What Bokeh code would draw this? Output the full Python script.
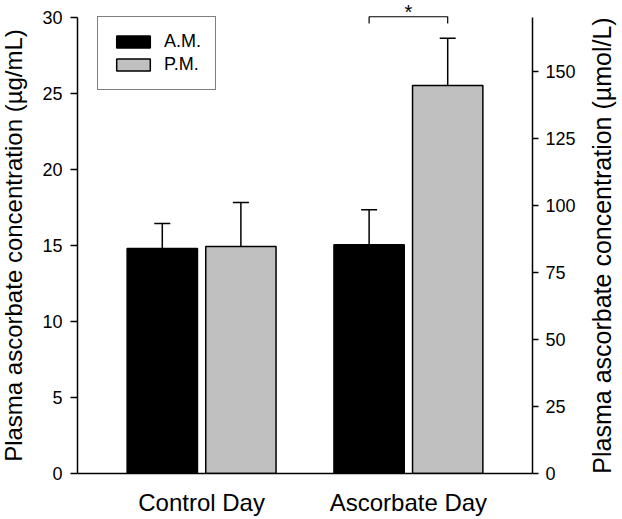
import math
from bokeh.plotting import figure
from bokeh.models import (Range1d, LinearAxis, FixedTicker, ColumnDataSource,
                          Whisker, TeeHead, Legend, LegendItem, Label)
from bokeh.core.properties import value
from bokeh.embed import file_html
from bokeh.resources import INLINE

# ---------------- data ----------------
categories = ["Control Day", "Ascorbate Day"]
series = ["A.M.", "P.M."]
am_mean = [14.8, 15.05]
am_err = [1.65, 2.3]
pm_mean = [14.93, 25.53]
pm_err = [2.9, 3.1]
left_ticks = [0, 5, 10, 15, 20, 25, 30]
right_ticks = [0, 25, 50, 75, 100, 125, 150]
MW_ASCORBATE = 176.12          # g/mol, µg/mL -> µmol/L
sig_category = 1               # index of category with significant A.M. vs P.M.
sig_label = "*"

left_label = "Plasma ascorbate concentration (\u00b5g/mL)"
right_label = "Plasma ascorbate concentration (\u00b5mol/L)"

# ---------------- layout / style ----------------
FONT = "Liberation Sans"
Y_TOP = 31.12
Y_AXIS_MAX = 30
X0, X1 = 0.4, 2.6
OFFSET = 0.19
BAR_W = 0.34
BRACKET_Y = 30.05
BRACKET_END = 29.6
STAR_Y = 30.34
LEFT_TITLE_X = 0.090      # x (data units) of the left title's anchor
RIGHT_TITLE_X = 2.937     # x (data units) of the right title's anchor

pos = [i + 1 for i in range(len(categories))]

p = figure(width=622, height=519, x_range=Range1d(X0, X1), y_range=Range1d(0, Y_TOP),
           output_backend="svg", toolbar_location=None, tools="",
           min_border_left=77, min_border_right=90, min_border_top=0, min_border_bottom=46)
p.outline_line_color = None
p.grid.visible = False
p.background_fill_color = "white"
p.border_fill_color = "white"

am_x = [v - OFFSET for v in pos]
pm_x = [v + OFFSET for v in pos]
am_src = ColumnDataSource(dict(x=am_x, top=am_mean,
                               upper=[m + e for m, e in zip(am_mean, am_err)]))
pm_src = ColumnDataSource(dict(x=pm_x, top=pm_mean,
                               upper=[m + e for m, e in zip(pm_mean, pm_err)]))

r_am = p.vbar(x="x", top="top", bottom=0, width=BAR_W, source=am_src,
              fill_color="black", line_color="black", line_width=1.5)
r_pm = p.vbar(x="x", top="top", bottom=0, width=BAR_W, source=pm_src,
              fill_color="#c0c0c0", line_color="black", line_width=1.5)

for src in (am_src, pm_src):
    w = Whisker(base="x", lower="top", upper="upper", source=src,
                line_color="black", line_width=1.5,
                upper_head=TeeHead(size=16, line_color="black", line_width=1.5),
                lower_head=None, level="annotation")
    p.add_layout(w)

# significance bracket
bx0 = am_x[sig_category]
bx1 = pm_x[sig_category]
p.line(x=[bx0, bx0, bx1, bx1], y=[BRACKET_END, BRACKET_Y, BRACKET_Y, BRACKET_END],
       line_color="black", line_width=1.2)
p.text(x=[(bx0 + bx1) / 2], y=[STAR_Y], text=[sig_label], text_font=value(FONT),
       text_font_size="20px", text_align="center", text_baseline="alphabetic",
       text_color="black")

# x axis
xa = p.xaxis[0]
xa.ticker = FixedTicker(ticks=pos)
xa.major_label_overrides = {v: c for v, c in zip(pos, categories)}
xa.major_tick_out = 0
xa.major_tick_in = 0
xa.minor_tick_out = 0
xa.minor_tick_in = 0
xa.axis_line_width = 1.5
xa.axis_line_color = "black"
xa.major_label_text_font = FONT
xa.major_label_text_font_size = "24px"
xa.major_label_text_color = "black"
xa.major_label_standoff = 15

# left y axis
ya = p.yaxis[0]
ya.ticker = FixedTicker(ticks=left_ticks)
ya.bounds = (0, Y_AXIS_MAX)
ya.major_tick_out = 7
ya.major_tick_in = 0
ya.minor_tick_out = 0
ya.minor_tick_in = 0
ya.major_tick_line_width = 1.5
ya.axis_line_width = 1.5
ya.axis_line_color = "black"
ya.major_tick_line_color = "black"
ya.major_label_text_font = FONT
ya.major_label_text_font_size = "18px"
ya.major_label_text_color = "black"
ya.major_label_standoff = 8

# right y axis (µmol/L)
p.extra_y_ranges = {"umol": Range1d(0, Y_TOP * 1000 / MW_ASCORBATE)}
ra = LinearAxis(y_range_name="umol", ticker=FixedTicker(ticks=right_ticks),
                bounds=(0, Y_AXIS_MAX * 1000 / MW_ASCORBATE))
ra.major_tick_out = 6
ra.major_tick_in = 0
ra.minor_tick_out = 0
ra.minor_tick_in = 0
ra.major_tick_line_width = 1.5
ra.axis_line_width = 1.5
ra.axis_line_color = "black"
ra.major_tick_line_color = "black"
ra.major_label_text_font = FONT
ra.major_label_text_font_size = "18px"
ra.major_label_text_color = "black"
ra.major_label_standoff = 7
p.add_layout(ra, "right")

# axis titles (rotated, reading bottom-to-top, centred on the axis span)
p.add_layout(Label(x=LEFT_TITLE_X, y=Y_AXIS_MAX / 2,
                   text=left_label, angle=math.pi / 2, text_align="center",
                   text_baseline="alphabetic", text_font=FONT,
                   text_font_size="24px", text_color="black"), "left")
p.add_layout(Label(x=RIGHT_TITLE_X, y=Y_AXIS_MAX / 2,
                   text=right_label, angle=math.pi / 2, text_align="center",
                   text_baseline="alphabetic", text_font=FONT,
                   text_font_size="25px", text_color="black"), "right")

legend = Legend(items=[LegendItem(label=series[0], renderers=[r_am]),
                       LegendItem(label=series[1], renderers=[r_pm])],
                location=(20, 383))
legend.label_text_font = FONT
legend.label_text_font_size = "18px"
legend.label_text_color = "black"
legend.glyph_width = 42
legend.glyph_height = 15
legend.label_standoff = 10
legend.spacing = 2
legend.padding = 14
legend.margin = 0
legend.border_line_color = "black"
legend.border_line_width = 1.2
legend.background_fill_alpha = 1
p.add_layout(legend)

open("out.html", "w").write(file_html(p, INLINE))
